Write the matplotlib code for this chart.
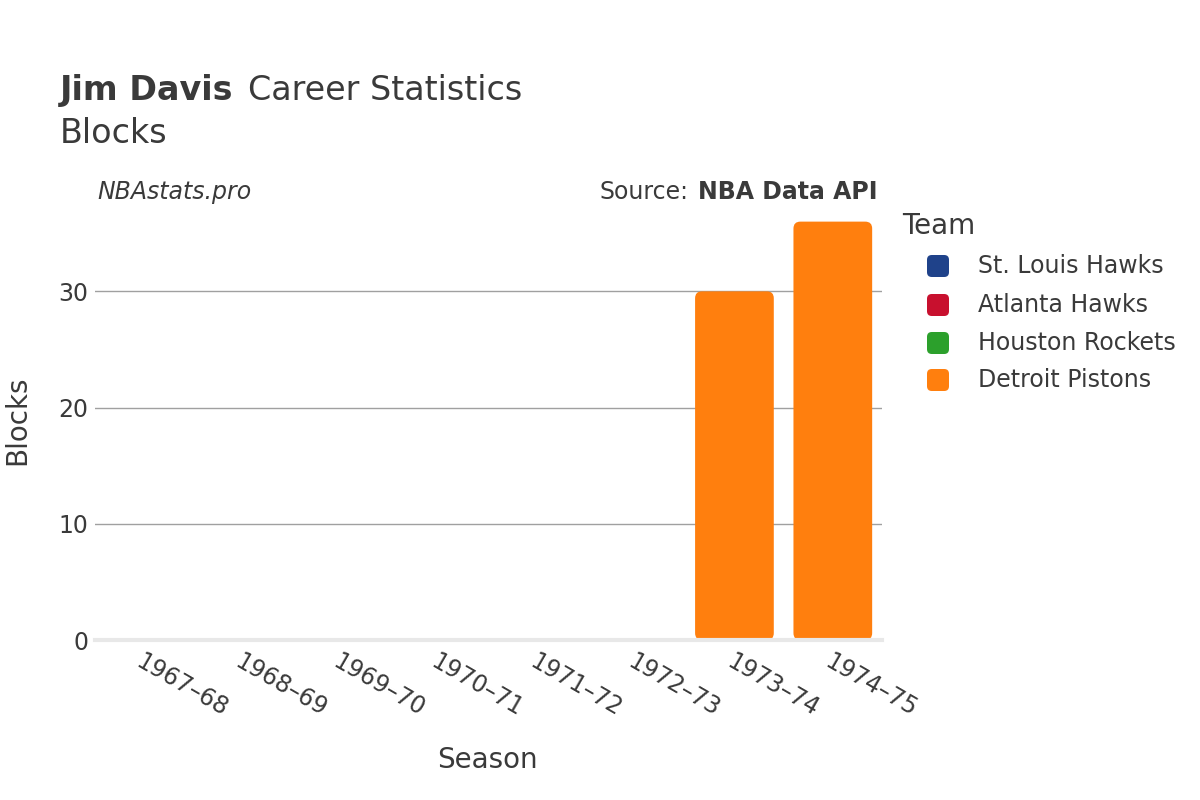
import matplotlib
matplotlib.use("Agg")
import matplotlib.pyplot as plt
from matplotlib.patches import FancyBboxPatch

seasons = ["1967–68", "1968–69", "1969–70", "1970–71", "1971–72", "1972–73", "1973–74", "1974–75"]
teams = ["St. Louis Hawks", "Atlanta Hawks", "Houston Rockets", "Detroit Pistons"]
team_colors = ["#1f428a", "#c8102e", "#2ca02c", "#ff7f0e"]
season_team = ["St. Louis Hawks", "Atlanta Hawks", "Atlanta Hawks", "Atlanta Hawks",
               "Atlanta Hawks", "Houston Rockets", "Detroit Pistons", "Detroit Pistons"]
blocks = [0, 0, 0, 0, 0, 0, 30, 36]
yticks = [0, 10, 20, 30]

TXT = "#3a3a3a"
plt.rcParams['font.family'] = ['DejaVu Sans']
W, H = 1200, 800
fig = plt.figure(figsize=(12, 8), dpi=100)
ax_l, ax_b, ax_w, ax_h = 95 / W, 160 / H, 787 / W, 430 / H
ax = fig.add_axes([ax_l, ax_b, ax_w, ax_h])

x = list(range(len(seasons)))
ylim_top = 37.0
ax.set_xlim(-0.5, len(seasons) - 0.5)
ax.set_ylim(0, ylim_top)

xu = len(seasons) / (ax_w * W)
yu = ylim_top / (ax_h * H)
aspect = yu / xu

bw = 0.8
for xi, val, tm in zip(x, blocks, season_team):
    c = team_colors[teams.index(tm)]
    if val > 0:
        p = FancyBboxPatch((xi - bw / 2, 0), bw, val,
                           boxstyle="round,pad=0,rounding_size=0.07",
                           mutation_aspect=aspect, facecolor=c, edgecolor="none",
                           zorder=3)
        ax.add_patch(p)

for gy in yticks[1:]:
    ax.axhline(gy, color="#a0a0a0", lw=1, zorder=1)
ax.axhline(0, color="#e8e8e8", lw=3, zorder=4, clip_on=False)

ax.set_yticks(yticks)
ax.set_yticklabels([str(v) for v in yticks], fontsize=17, color=TXT)
ax.set_xticks(x)
ax.set_xticklabels(seasons, rotation=-30, ha="left", rotation_mode="anchor",
                   fontsize=17, color=TXT)
ax.tick_params(axis="both", length=0)
ax.tick_params(axis="x", pad=7)
ax.tick_params(axis="y", pad=5)
for s in ax.spines.values():
    s.set_visible(False)

fig.text(17 / W, 1 - 420 / H, "Blocks", fontsize=20, color=TXT, rotation=90,
         ha="center", va="center")
fig.text(487 / W, 1 - 760 / H, "Season", fontsize=20, color=TXT, ha="center", va="center")

renderer = fig.canvas.get_renderer()

t1 = fig.text(60 / W, 1 - 100 / H, "Jim Davis", fontsize=24, fontweight="bold", color=TXT,
              va="baseline")
bb = t1.get_window_extent(renderer)
fig.text((bb.x1 + 14) / W, 1 - 100 / H, "Career Statistics", fontsize=24, color=TXT,
         va="baseline")
fig.text(60 / W, 1 - 143 / H, "Blocks", fontsize=24, color=TXT, va="baseline")

fig.text(97 / W, 1 - 192 / H, "NBAstats.pro", fontsize=17, style="italic", color=TXT,
         va="center")
t2 = fig.text(878 / W, 1 - 192 / H, "NBA Data API", fontsize=17, fontweight="bold",
              color=TXT, va="center", ha="right")
bb2 = t2.get_window_extent(renderer)
fig.text((bb2.x0 - 10) / W, 1 - 192 / H, "Source:", fontsize=17, color=TXT,
         va="center", ha="right")

# legend
fig.text(902 / W, 1 - 226 / H, "Team", fontsize=20, color=TXT, va="center")
leg_y = [266, 305, 343, 380]
for ty, tm, c in zip(leg_y, teams, team_colors):
    s = 22
    box = FancyBboxPatch(((938 - s / 2) / W, 1 - (ty + s / 2) / H), s / W, s / H,
                         boxstyle="round,pad=0,rounding_size=0.004",
                         mutation_aspect=W / H,
                         transform=fig.transFigure, facecolor=c, edgecolor="none")
    fig.patches.append(box)
    fig.text(978 / W, 1 - ty / H, tm, fontsize=17, color=TXT, va="center")

fig.savefig("out.png", dpi=100, facecolor="white")
